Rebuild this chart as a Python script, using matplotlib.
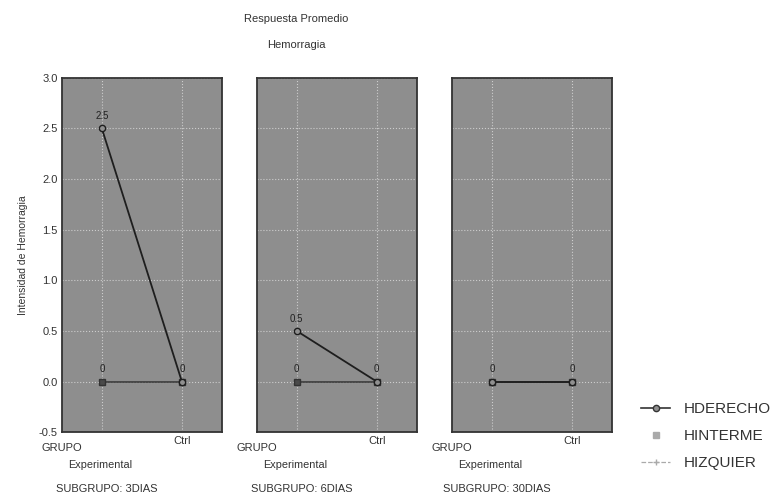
import matplotlib.pyplot as plt
from matplotlib.lines import Line2D

plt.rcParams['font.family'] = ['Liberation Sans', 'DejaVu Sans']

groups = ["GRUPO\nExperimental", "Ctrl"]
subgroups = ["SUBGRUPO: 3DIAS", "SUBGRUPO: 6DIAS", "SUBGRUPO: 30DIAS"]
hderecho = [[2.5, 0.0], [0.5, 0.0], [0.0, 0.0]]
hinterme = [[0.0, 0.0], [0.0, 0.0], [0.0, 0.0]]
hizquier = [[0.0, 0.0], [0.0, 0.0], [0.0, 0.0]]
yticks = [-0.5, 0.0, 0.5, 1.0, 1.5, 2.0, 2.5, 3.0]
txtc = '#333333'

fig = plt.figure(figsize=(7.73, 4.99), dpi=100)
lefts = [0.080, 0.332, 0.585]
for i, left in enumerate(lefts):
    ax = fig.add_axes([left, 0.134, 0.207, 0.710])
    x = [0, 1]
    ax.plot(x, hizquier[i], color='#333333', lw=1.1, marker='+', ms=4, zorder=2)
    ax.plot(x, hinterme[i], color='#333333', ls='none', marker='s', ms=4.5,
            mfc='#4a4a4a', zorder=3)
    ax.plot(x, hderecho[i], color='#1e1e1e', lw=1.3, marker='o', ms=4.5,
            mfc='#909090', mec='#1e1e1e', zorder=4)
    for xi in x:
        vals = sorted({hderecho[i][xi], hinterme[i][xi], hizquier[i][xi]})
        for v in vals:
            txt = '0' if v == 0 else f'{v:.1f}'
            ax.text(xi, v + 0.07, txt, ha='center', va='bottom', fontsize=7, color='#222222')

    ax.set_facecolor('#8e8e8e')
    ax.set_xlim(-0.5, 1.5)
    ax.set_ylim(-0.5, 3.0)
    ax.set_yticks(yticks)
    ax.set_xticks(x)
    ax.set_xticklabels(['', groups[1]], fontsize=8, color=txtc)
    ax.grid(True, color='#dddddd', ls=':', lw=0.8, alpha=0.8)
    ax.tick_params(length=0, pad=3)
    for s in ax.spines.values():
        s.set_color('#333333')
        s.set_linewidth(1.3)
    if i == 0:
        ax.set_yticklabels([f'{t:.1f}' for t in yticks], fontsize=8, color=txtc)
        ax.set_ylabel('Intensidad de Hemorragia', fontsize=7.5, color=txtc, labelpad=8)
    else:
        ax.set_yticklabels([])
    g1, g2 = groups[0].split('\n')
    ax.text(0.0, -0.03, g1, transform=ax.transAxes, ha='center', va='top',
            fontsize=8, color=txtc)
    ax.text(0.24, -0.08, g2, transform=ax.transAxes, ha='center', va='top',
            fontsize=7.8, color=txtc)
    ax.text(0.28, -0.145, subgroups[i], transform=ax.transAxes, ha='center', va='top',
            fontsize=8, color=txtc)

fig.text(0.383, 0.962, 'Respuesta Promedio', ha='center', va='center', fontsize=8, color=txtc)
fig.text(0.383, 0.91, 'Hemorragia', ha='center', va='center', fontsize=8, color=txtc)

handles = [
    Line2D([], [], color='#333333', lw=1.2, marker='o', ms=4.5, mfc='#909090', mec='#333333'),
    Line2D([], [], ls='none', marker='s', ms=4, color='#aaaaaa'),
    Line2D([], [], color='#aaaaaa', ls='--', lw=0.9, marker='+', ms=4),
]
fig.legend(handles, ['HDERECHO', 'HINTERME', 'HIZQUIER'],
           loc='upper left', bbox_to_anchor=(0.812, 0.222), frameon=False,
           fontsize=11, labelcolor=txtc, handlelength=1.9, handletextpad=0.9,
           labelspacing=0.85)

fig.savefig('out.png', dpi=100)
